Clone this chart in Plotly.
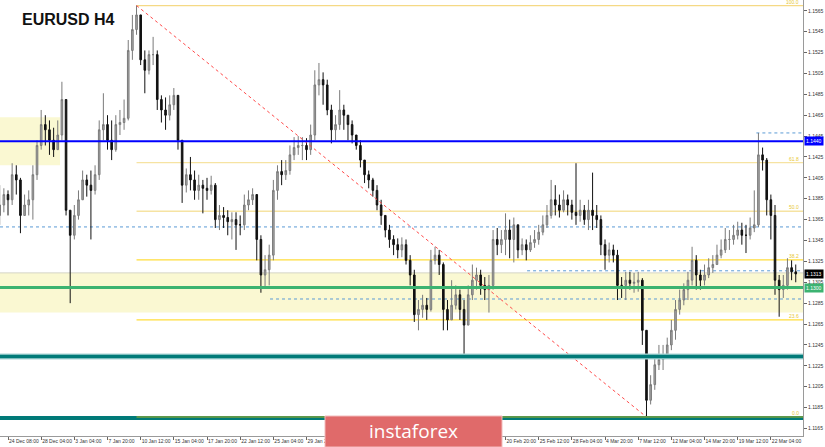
import plotly.graph_objects as go

# ---------------- data ----------------
first_open = 1.1369

close_p = [
1.1379,1.1389,1.1384,1.1408,1.1403,1.1369,1.1379,1.1384,1.1408,1.1436,
1.1456,1.1451,1.1441,1.1432,1.1446,1.1480,1.1374,1.1350,1.1369,1.1384,
1.1403,1.1398,1.1393,1.1408,1.1451,1.1456,1.1441,1.1432,1.1456,1.1458,
1.1462,1.1527,1.1547,1.1561,1.1518,1.1508,1.1523,1.1523,1.1480,1.1470,
1.1465,1.1475,1.1484,1.1441,1.1398,1.1408,1.1403,1.1393,1.1398,1.1395,
1.1393,1.1398,1.1365,1.1369,1.1367,1.1363,1.1365,1.1360,1.1360,1.1379,
1.1384,1.1389,1.1346,1.1312,1.1317,1.1331,1.1393,1.1411,1.1408,1.1412,
1.1427,1.1434,1.1436,1.1436,1.1432,1.1446,1.1494,1.1499,1.1494,1.1470,
1.1451,1.1456,1.1470,1.1465,1.1456,1.1446,1.1436,1.1422,1.1408,1.1403,
1.1393,1.1379,1.1369,1.1355,1.1346,1.1341,1.1336,1.1341,1.1326,1.1312,
1.1274,1.1279,1.1283,1.1279,1.1326,1.1331,1.1322,1.1279,1.1269,1.1283,
1.1293,1.1279,1.1264,1.1293,1.1307,1.1312,1.1302,1.1298,1.1302,1.1346,
1.1341,1.1346,1.1355,1.1346,1.1360,1.1336,1.1341,1.1336,1.1343,1.1346,
1.1353,1.1360,1.1369,1.1384,1.1379,1.1374,1.1384,1.1379,1.1372,1.1369,
1.1374,1.1365,1.1374,1.1369,1.1365,1.1341,1.1331,1.1336,1.1331,1.1302,
1.1302,1.1307,1.1304,1.1305,1.1307,1.1259,1.1192,1.1207,1.1226,1.1231,
1.1235,1.1245,1.1259,1.1279,1.1288,1.1298,1.1307,1.1326,1.1312,1.1307,
1.1312,1.1319,1.1322,1.1331,1.1336,1.1346,1.1346,1.1350,1.1355,1.1350,
1.1350,1.1357,1.1360,1.1427,1.1422,1.1384,1.1369,1.1307,1.1298,1.1302,
1.1319,1.1315,1.1313]

high_p = [
1.1398,1.1395,1.1393,1.1419,1.1417,1.1405,1.1389,1.1393,1.1417,1.1441,
1.1470,1.1465,1.1460,1.1453,1.1460,1.1497,1.1480,1.1374,1.1379,1.1393,
1.1412,1.1408,1.1412,1.1417,1.1460,1.1486,1.1465,1.1460,1.1465,1.1470,
1.1480,1.1537,1.1561,1.1570,1.1561,1.1527,1.1527,1.1540,1.1527,1.1484,
1.1482,1.1484,1.1491,1.1484,1.1441,1.1414,1.1425,1.1412,1.1408,1.1403,
1.1405,1.1407,1.1400,1.1379,1.1377,1.1374,1.1372,1.1372,1.1369,1.1389,
1.1393,1.1395,1.1389,1.1350,1.1331,1.1341,1.1403,1.1417,1.1422,1.1422,
1.1436,1.1444,1.1445,1.1444,1.1443,1.1456,1.1508,1.1515,1.1506,1.1499,
1.1475,1.1465,1.1489,1.1475,1.1465,1.1460,1.1446,1.1441,1.1422,1.1412,
1.1405,1.1398,1.1384,1.1369,1.1360,1.1350,1.1347,1.1348,1.1346,1.1331,
1.1317,1.1288,1.1293,1.1290,1.1336,1.1339,1.1336,1.1324,1.1288,1.1307,
1.1302,1.1298,1.1288,1.1302,1.1322,1.1319,1.1317,1.1310,1.1312,1.1355,
1.1357,1.1355,1.1371,1.1365,1.1367,1.1360,1.1347,1.1346,1.1350,1.1355,
1.1360,1.1369,1.1379,1.1403,1.1398,1.1389,1.1393,1.1389,1.1384,1.1419,
1.1384,1.1379,1.1384,1.1410,1.1379,1.1369,1.1346,1.1343,1.1341,1.1336,
1.1310,1.1315,1.1315,1.1314,1.1315,1.1309,1.1259,1.1216,1.1235,1.1245,
1.1245,1.1252,1.1269,1.1288,1.1298,1.1304,1.1315,1.1339,1.1331,1.1317,
1.1322,1.1328,1.1331,1.1341,1.1346,1.1357,1.1355,1.1360,1.1363,1.1362,
1.1360,1.1367,1.1393,1.1448,1.1434,1.1424,1.1389,1.1379,1.1312,1.1312,
1.1328,1.1326,1.1322]

low_p = [
1.1360,1.1372,1.1369,1.1379,1.1389,1.1352,1.1369,1.1369,1.1365,1.1403,
1.1432,1.1436,1.1427,1.1425,1.1432,1.1441,1.1369,1.1285,1.1346,1.1365,
1.1384,1.1387,1.1346,1.1389,1.1403,1.1441,1.1432,1.1422,1.1430,1.1446,
1.1451,1.1460,1.1518,1.1542,1.1513,1.1486,1.1504,1.1513,1.1470,1.1458,
1.1451,1.1460,1.1470,1.1432,1.1381,1.1391,1.1393,1.1384,1.1384,1.1371,
1.1384,1.1389,1.1357,1.1355,1.1357,1.1350,1.1346,1.1336,1.1350,1.1355,
1.1374,1.1379,1.1326,1.1295,1.1300,1.1302,1.1326,1.1384,1.1398,1.1403,
1.1408,1.1422,1.1427,1.1422,1.1422,1.1427,1.1441,1.1484,1.1475,1.1465,
1.1438,1.1441,1.1451,1.1451,1.1441,1.1438,1.1432,1.1415,1.1400,1.1395,
1.1387,1.1374,1.1360,1.1348,1.1338,1.1331,1.1328,1.1329,1.1322,1.1302,
1.1267,1.1259,1.1271,1.1269,1.1277,1.1322,1.1312,1.1259,1.1259,1.1269,
1.1279,1.1269,1.1234,1.1264,1.1288,1.1298,1.1293,1.1288,1.1276,1.1298,
1.1331,1.1333,1.1331,1.1328,1.1324,1.1328,1.1331,1.1326,1.1334,1.1338,
1.1341,1.1350,1.1357,1.1366,1.1369,1.1367,1.1372,1.1369,1.1365,1.1360,
1.1363,1.1360,1.1355,1.1355,1.1357,1.1331,1.1317,1.1324,1.1324,1.1288,
1.1290,1.1288,1.1298,1.1295,1.1296,1.1245,1.1176,1.1188,1.1202,1.1221,
1.1221,1.1234,1.1240,1.1250,1.1274,1.1283,1.1288,1.1302,1.1298,1.1298,
1.1302,1.1309,1.1314,1.1322,1.1328,1.1333,1.1336,1.1341,1.1346,1.1341,
1.1333,1.1346,1.1353,1.1358,1.1412,1.1369,1.1346,1.1293,1.1272,1.1290,
1.1298,1.1307,1.1305]

# time labels; the ones hidden behind the instaforex badge are left blank
time_labels = ["24 Dec 08:00", "28 Dec 04:00", "3 Jan 04:00", "7 Jan 20:00",
               "10 Jan 12:00", "15 Jan 04:00", "17 Jan 20:00", "22 Jan 12:00",
               "25 Jan 04:00", "29 Jan 20:00", "", "",
               "", "", "", "20 Feb 20:00",
               "25 Feb 12:00", "28 Feb 04:00", "4 Mar 20:00", "7 Mar 12:00",
               "12 Mar 04:00", "14 Mar 20:00", "19 Mar 12:00", "22 Mar 04:00"]
price_ticks = [1.1165, 1.1185, 1.1205, 1.1225, 1.1245, 1.1265, 1.1285, 1.1305,
               1.1325, 1.1345, 1.1365, 1.1385, 1.1405, 1.1425, 1.1445, 1.1465,
               1.1485, 1.1505, 1.1525, 1.1545, 1.1565]

level_blue = 1.1440
level_green = 1.1300
level_teal = 1.1234
level_teal_low = 1.1175
dotted_levels = [1.1358, 1.1316, 1.1289, 1.1448]
zone_tops = [1.1463, 1.1314]
zone_bottoms = [1.1417, 1.1276]
fib_ratios = [1.0, 0.618, 0.5, 0.382, 0.236, 0.0]
fib_texts = ["100.0", "61.8", "50.0", "38.2", "23.6", "0.0"]

# ---------------- build ----------------
n = len(close_p)
assert len(high_p) == n and len(low_p) == n
open_p = [first_open] + close_p[:-1]
xs = [-4 + 2 * j for j in range(n)]          # H4 bar index (each candle spans 2 bars)
tick_bars = [16 * k for k in range(len(time_labels))]

X0, X1 = -3.86, 383.5
Y0, Y1 = 1.11578, 1.15753

fig = go.Figure()
fig.add_trace(go.Candlestick(
    x=xs, open=open_p, high=high_p, low=low_p, close=close_p,
    increasing=dict(line=dict(color="#7a7a7a", width=1), fillcolor="#a8a8a8"),
    decreasing=dict(line=dict(color="#111111", width=1), fillcolor="#111111"),
    whiskerwidth=0, hoverinfo="skip", showlegend=False))

shapes = []
zone_x = [(X0, 25.1), (X0, X1)]
for (xa, xb), t, b in zip(zone_x, zone_tops, zone_bottoms):
    shapes.append(dict(type="rect", xref="x", yref="y", x0=xa, x1=xb, y0=b, y1=t,
                       fillcolor="#faf8d2", line=dict(width=0), layer="below"))
shapes.append(dict(type="line", xref="x", yref="y", x0=X0, x1=X1,
                   y0=zone_tops[1], y1=zone_tops[1],
                   line=dict(color="#d4d4c4", width=1), layer="below"))

hi = max(high_p); lo = min(low_p)
i_hi = xs[high_p.index(hi)]; i_lo = xs[low_p.index(lo)]
fib_colors = ["#f5d985", "#f6e3a2", "#f6e3a2", "#ffdd3a", "#ffdd3a", "#c9c000"]
fib_levels = [lo + r * (hi - lo) for r in fib_ratios]
for lv, col in zip(fib_levels, fib_colors):
    shapes.append(dict(type="line", xref="x", yref="y", x0=i_hi, x1=X1, y0=lv, y1=lv,
                       line=dict(color=col, width=1.3), layer="below"))

dot_starts = [X0, 250.4, 126.4, 361.0]
for lv, xs0 in zip(dotted_levels, dot_starts):
    shapes.append(dict(type="line", xref="x", yref="y", x0=xs0, x1=X1, y0=lv, y1=lv,
                       line=dict(color="#5b9bd5", width=1, dash="dot"), layer="below"))

shapes.append(dict(type="line", xref="x", yref="y", x0=i_hi, x1=i_lo, y0=hi, y1=lo,
                   line=dict(color="#ff4a4a", width=1, dash="dot"), layer="above"))

shapes.append(dict(type="line", xref="paper", yref="y", x0=0, x1=1, y0=level_teal, y1=level_teal,
                   line=dict(color="#a9d6d6", width=6), layer="above"))
shapes.append(dict(type="line", xref="paper", yref="y", x0=0, x1=1, y0=level_teal, y1=level_teal,
                   line=dict(color="#007a78", width=3.5), layer="above"))
shapes.append(dict(type="line", xref="paper", yref="y", x0=0, x1=1, y0=level_teal_low, y1=level_teal_low,
                   line=dict(color="#007a78", width=4), layer="above"))
shapes.append(dict(type="line", xref="x", yref="y", x0=i_hi, x1=X1, y0=lo, y1=lo,
                   line=dict(color="#b5b520", width=1), layer="above"))
shapes.append(dict(type="line", xref="paper", yref="y", x0=0, x1=1, y0=level_green, y1=level_green,
                   line=dict(color="#3cb371", width=3), layer="above"))
shapes.append(dict(type="line", xref="paper", yref="y", x0=0, x1=1, y0=level_blue, y1=level_blue,
                   line=dict(color="#0000ff", width=2), layer="above"))

shapes.append(dict(type="rect", xref="paper", yref="paper", x0=325 / 803, x1=502 / 803,
                   y0=-11 / 436, y1=20 / 436, fillcolor="#e06a6a",
                   line=dict(color="#f2bcbc", width=1), layer="above"))

annotations = []
annotations.append(dict(xref="paper", yref="paper", x=20 / 803, y=(436 - 19) / 436,
                        xanchor="left", yanchor="middle", showarrow=False,
                        text="<b>EURUSD H4</b>",
                        font=dict(family="Liberation Sans, Arial", size=16, color="#111111")))
for lv, t in zip(fib_levels, fib_texts):
    annotations.append(dict(xref="paper", yref="y", x=0.998, y=lv, xanchor="right",
                            yanchor="bottom", showarrow=False, text=t, yshift=-1,
                            font=dict(family="Liberation Sans, Arial", size=5, color="#e8c832")))
for lv, bg in [(level_blue, "#0000ff"), (close_p[-1], "#000000"), (level_green, "#3cb371")]:
    annotations.append(dict(xref="paper", yref="y", x=1, y=lv, xanchor="left", yanchor="middle",
                            xshift=1, showarrow=False, text=f"{lv:.4f}", bgcolor=bg, borderpad=1,
                            font=dict(family="Liberation Sans, Arial", size=5, color="#ffffff")))
annotations.append(dict(xref="paper", yref="paper", x=413.5 / 803, y=(436 - 431) / 436,
                        xanchor="center", yanchor="middle", showarrow=False, text="instaforex",
                        font=dict(family="Open Sans", size=19, color="#ffffff")))

fig.update_layout(
    width=825, height=447, margin=dict(l=0, r=22, t=0, b=11, autoexpand=False),
    plot_bgcolor="#ffffff", paper_bgcolor="#ffffff", boxgap=0.45,
    shapes=shapes, annotations=annotations, showlegend=False,
    xaxis=dict(range=[X0, X1], rangeslider=dict(visible=False), showgrid=False, zeroline=False,
               automargin=False, tickangle=0,
               tickmode="array", tickvals=tick_bars, ticktext=time_labels,
               ticklabelposition="outside right", ticks="outside", ticklen=3,
               tickcolor="#666666", showline=True, linecolor="#9a9a9a", linewidth=1,
               tickfont=dict(family="Liberation Sans, Arial", size=5, color="#333333")),
    yaxis=dict(range=[Y0, Y1], side="right", showgrid=False, zeroline=False,
               automargin=False,
               tickmode="array", tickvals=price_ticks, tickformat=".4f",
               ticks="outside", ticklen=3, tickcolor="#666666",
               showline=True, linecolor="#9a9a9a", linewidth=1,
               tickfont=dict(family="Liberation Sans, Arial", size=5, color="#333333")),
)

fig.write_html("out.html", config={"displayModeBar": False},
               post_script="document.body.style.margin='0';document.body.style.overflow='hidden';")
